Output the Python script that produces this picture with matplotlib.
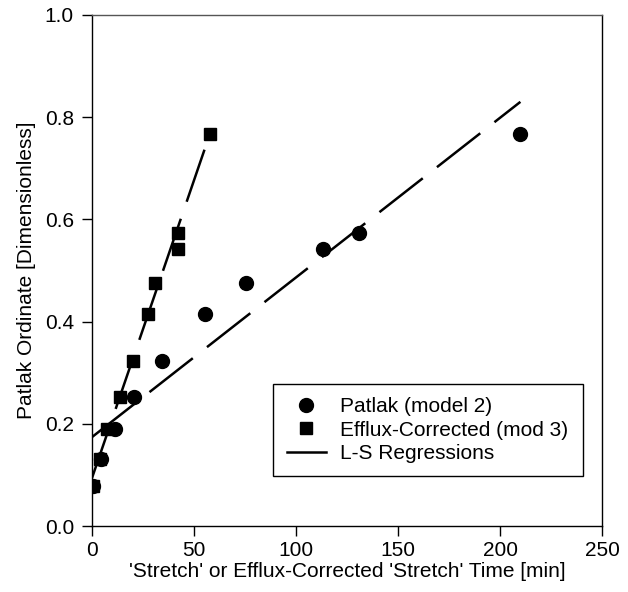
import numpy as np
import matplotlib
matplotlib.use("Agg")
import matplotlib.pyplot as plt

plt.rcParams['font.family'] = ['Liberation Sans', 'DejaVu Sans']

# --- DATOS ---
patlak_x = [0.5, 4.5, 11.3, 20.6, 34.3, 55.4, 75.5, 113.0, 131.0, 210.0]
patlak_y = [0.078, 0.131, 0.190, 0.252, 0.323, 0.415, 0.476, 0.542, 0.573, 0.767]

efflux_x = [0.5, 4.0, 7.4, 13.7, 20.1, 27.5, 30.9, 42.2, 42.2, 57.8]
efflux_y = [0.078, 0.131, 0.190, 0.252, 0.323, 0.415, 0.476, 0.542, 0.573, 0.767]

# regresiones (intercepto, pendiente, x final)
patlak_fit = (0.174, 0.003124, 210.0)
efflux_fit = (0.094, 0.01165, 57.8)

x_ticks = [0, 50, 100, 150, 200, 250]
y_ticks = [0.0, 0.2, 0.4, 0.6, 0.8, 1.0]

FS = 15

fig = plt.figure(figsize=(6.28, 5.92), dpi=100)
ax = fig.add_axes([92 / 628, 1 - 526 / 592, 510 / 628, 511 / 592])

dash = (22, 7.2)
for b0, b1, xend in [patlak_fit, efflux_fit]:
    xx = np.array([0.0, xend])
    ax.plot(xx, b0 + b1 * xx, color='black', lw=1.8, dashes=dash, zorder=2)

ax.plot(patlak_x, patlak_y, 'o', color='black', ms=10, zorder=3, label='Patlak (model 2)')
ax.plot(efflux_x, efflux_y, 's', color='black', ms=9, zorder=3, label='Efflux-Corrected (mod 3)')
ax.plot([], [], '-', color='black', lw=1.8, label='L-S Regressions')

ax.set_xlim(0, 250)
ax.set_ylim(0, 1.0)
ax.set_xticks(x_ticks)
ax.set_yticks(y_ticks)
ax.set_yticklabels([f'{v:.1f}' for v in y_ticks])
ax.tick_params(direction='out', length=7, width=1, labelsize=FS, top=False, right=False)
ax.tick_params(axis='y', pad=6)
ax.tick_params(axis='x', pad=4)
for s in ax.spines.values():
    s.set_linewidth(1)
ax.spines['top'].set_color('#555555')

ax.set_xlabel("'Stretch' or Efflux-Corrected 'Stretch' Time [min]", fontsize=FS, labelpad=1)
ax.set_ylabel("Patlak Ordinate [Dimensionless]", fontsize=FS, labelpad=6)

leg = ax.legend(loc='upper left', bbox_to_anchor=(0.355, 0.096, 0.608, 0.182), mode='expand',
                fontsize=FS, fancybox=False, edgecolor='black', framealpha=1,
                handlelength=1.9, borderpad=0.65, labelspacing=0.2, handletextpad=0.65,
                borderaxespad=0)
leg.get_frame().set_linewidth(1)

fig.savefig('out.png', dpi=100)
